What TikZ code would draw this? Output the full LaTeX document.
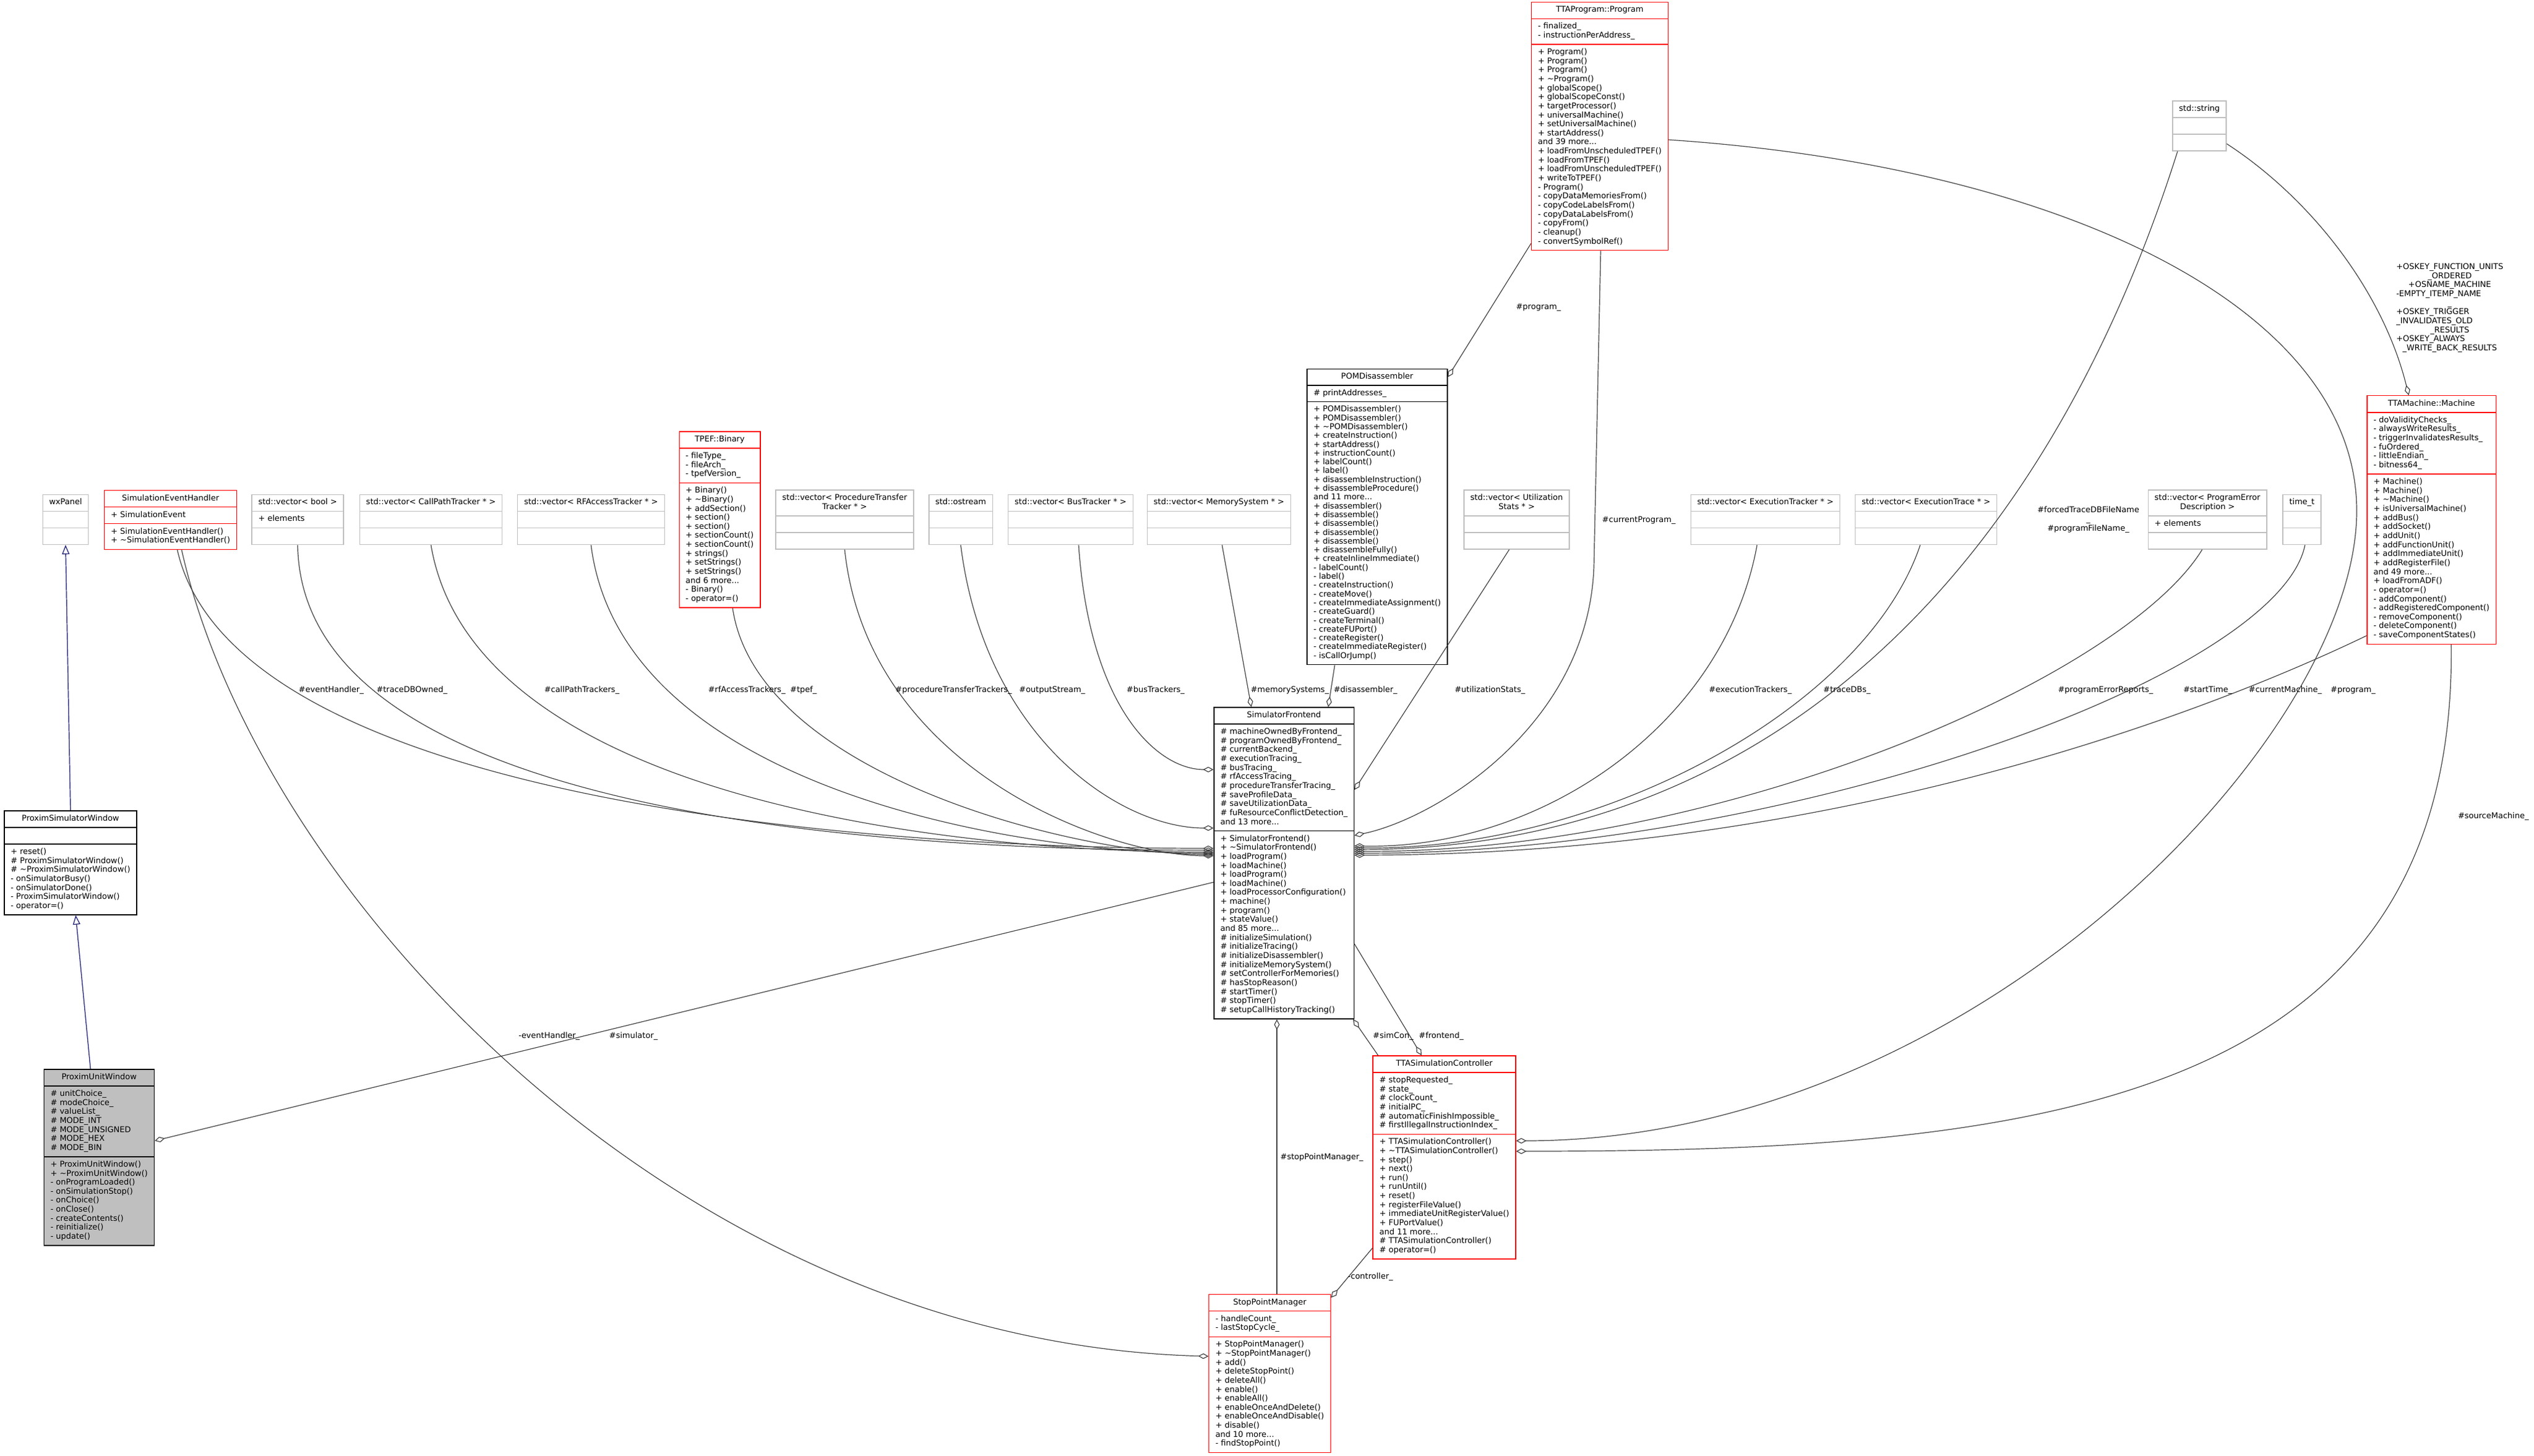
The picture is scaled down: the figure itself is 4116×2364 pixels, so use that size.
\documentclass[tikz,border=0pt]{standalone}
\usepackage{fontspec}
\setmainfont{DejaVu Sans}
\usetikzlibrary{shapes.multipart,arrows.meta,calc}
\definecolor{extgray}{RGB}{191,191,191}
\definecolor{edgegray}{RGB}{64,64,64}
\definecolor{inhblue}{RGB}{25,25,112}
\definecolor{unitfill}{RGB}{191,191,191}
\newcommand{\cllines}[1]{\begin{tabular}{@{}l@{}}#1\end{tabular}}
\newcommand{\clctr}[1]{\begin{tabular}{@{}c@{}}#1\end{tabular}}
\begin{document}
\begin{tikzpicture}[x=1pt,y=-1pt,
  cls/.style={rectangle split, rectangle split parts=3, rectangle split part align={center,left,left},
    draw, line width=1.4pt, inner xsep=10.5pt, inner ysep=5.5pt,
    font=\fontsize{13}{14.65}\selectfont, text=black, fill=white},
  redcls/.style={cls, draw=red},
  blkcls/.style={cls, draw=black},
  extcls/.style={cls, draw=extgray},
  uses/.style={draw=edgegray, line width=1.2pt, -{Diamond[open,length=17pt,width=9pt,line width=1.2pt]}},
  inh/.style={draw=inhblue, line width=1.2pt, {Triangle[open,length=15pt,width=12pt,line width=1.2pt]}-},
  lbl/.style={font=\fontsize{13}{14.65}\selectfont, inner sep=0pt, text=black, align=center},
]
\useasboundingbox (0,0) rectangle (4116,2364);
\fill[white] (0,0) rectangle (4116,2364);

% ---------------- classes ----------------
\node[extcls] (wx) at (106.5,844) {\strut wxPanel\nodepart{two}\strut\nodepart{three}\strut};
\node[redcls] (seh) at (277,844.5) {\strut SimulationEventHandler\nodepart{two}\cllines{+ SimulationEvent}\nodepart{three}\cllines{+ SimulationEventHandler()\\+ \textasciitilde SimulationEventHandler()}};
\node[blkcls] (psw) at (114.5,1401.5) {\strut ProximSimulatorWindow\nodepart{two}\strut\nodepart{three}\cllines{+ reset()\\\# ProximSimulatorWindow()\\\# \textasciitilde ProximSimulatorWindow()\\- onSimulatorBusy()\\- onSimulatorDone()\\- ProximSimulatorWindow()\\- operator=()}};
\node[blkcls, fill=unitfill] (puw) at (161,1880) {\strut ProximUnitWindow\nodepart{two}\cllines{\# unitChoice\_\\\# modeChoice\_\\\# valueList\_\\\# MODE\_INT\\\# MODE\_UNSIGNED\\\# MODE\_HEX\\\# MODE\_BIN}\nodepart{three}\cllines{+ ProximUnitWindow()\\+ \textasciitilde ProximUnitWindow()\\- onProgramLoaded()\\- onSimulationStop()\\- onChoice()\\- onClose()\\- createContents()\\- reinitialize()\\- update()}};

\node[extcls] (vbool) at (483.5,844) {\strut std::vector< bool >\nodepart{two}\cllines{+ elements}\nodepart{three}\strut};
\node[extcls] (vcall) at (700,844) {\strut std::vector< CallPathTracker * >\nodepart{two}\strut\nodepart{three}\strut};
\node[extcls] (vrf) at (960,844) {\strut std::vector< RFAccessTracker * >\nodepart{two}\strut\nodepart{three}\strut};
\node[redcls] (tpef) at (1169,844) {\strut TPEF::Binary\nodepart{two}\cllines{- fileType\_\\- fileArch\_\\- tpefVersion\_}\nodepart{three}\cllines{+ Binary()\\+ \textasciitilde Binary()\\+ addSection()\\+ section()\\+ section()\\+ sectionCount()\\+ sectionCount()\\+ strings()\\+ setStrings()\\+ setStrings()\\and 6 more...\\- Binary()\\- operator=()}};
\node[extcls] (vproc) at (1372,844) {\clctr{std::vector< ProcedureTransfer\\Tracker * >}\nodepart{two}\strut\nodepart{three}\strut};
\node[extcls] (ostr) at (1560.5,844) {\strut std::ostream\nodepart{two}\strut\nodepart{three}\strut};
\node[extcls] (vbus) at (1739,844) {\strut std::vector< BusTracker * >\nodepart{two}\strut\nodepart{three}\strut};
\node[extcls] (vmem) at (1980,844) {\strut std::vector< MemorySystem * >\nodepart{two}\strut\nodepart{three}\strut};
\node[blkcls, font=\fontsize{13}{14.3}\selectfont] (pom) at (2237,839.5) {\strut POMDisassembler\nodepart{two}\cllines{\# printAddresses\_}\nodepart{three}\cllines{+ POMDisassembler()\\+ POMDisassembler()\\+ \textasciitilde POMDisassembler()\\+ createInstruction()\\+ startAddress()\\+ instructionCount()\\+ labelCount()\\+ label()\\+ disassembleInstruction()\\+ disassembleProcedure()\\and 11 more...\\+ disassembler()\\+ disassemble()\\+ disassemble()\\+ disassemble()\\+ disassemble()\\+ disassembleFully()\\+ createInlineImmediate()\\- labelCount()\\- label()\\- createInstruction()\\- createMove()\\- createImmediateAssignment()\\- createGuard()\\- createTerminal()\\- createFUPort()\\- createRegister()\\- createImmediateRegister()\\- isCallOrJump()}};
\node[blkcls] (sf) at (2085.5,1402) {\strut SimulatorFrontend\nodepart{two}\cllines{\# machineOwnedByFrontend\_\\\# programOwnedByFrontend\_\\\# currentBackend\_\\\# executionTracing\_\\\# busTracing\_\\\# rfAccessTracing\_\\\# procedureTransferTracing\_\\\# saveProfileData\_\\\# saveUtilizationData\_\\\# fuResourceConflictDetection\_\\and 13 more...}\nodepart{three}\cllines{+ SimulatorFrontend()\\+ \textasciitilde SimulatorFrontend()\\+ loadProgram()\\+ loadMachine()\\+ loadProgram()\\+ loadMachine()\\+ loadProcessorConfiguration()\\+ machine()\\+ program()\\+ stateValue()\\and 85 more...\\\# initializeSimulation()\\\# initializeTracing()\\\# initializeDisassembler()\\\# initializeMemorySystem()\\\# setControllerForMemories()\\\# hasStopReason()\\\# startTimer()\\\# stopTimer()\\\# setupCallHistoryTracking()}};
\node[redcls] (prog) at (2598.5,205) {\strut TTAProgram::Program\nodepart{two}\cllines{- finalized\_\\- instructionPerAddress\_}\nodepart{three}\cllines{+ Program()\\+ Program()\\+ Program()\\+ \textasciitilde Program()\\+ globalScope()\\+ globalScopeConst()\\+ targetProcessor()\\+ universalMachine()\\+ setUniversalMachine()\\+ startAddress()\\and 39 more...\\+ loadFromUnscheduledTPEF()\\+ loadFromTPEF()\\+ loadFromUnscheduledTPEF()\\+ writeToTPEF()\\- Program()\\- copyDataMemoriesFrom()\\- copyCodeLabelsFrom()\\- copyDataLabelsFrom()\\- copyFrom()\\- cleanup()\\- convertSymbolRef()}};
\node[extcls] (vutil) at (2463.5,844) {\clctr{std::vector< Utilization\\Stats * >}\nodepart{two}\strut\nodepart{three}\strut};
\node[extcls] (vexec) at (2867.5,844) {\strut std::vector< ExecutionTracker * >\nodepart{two}\strut\nodepart{three}\strut};
\node[extcls] (vtrace) at (3128.5,844) {\strut std::vector< ExecutionTrace * >\nodepart{two}\strut\nodepart{three}\strut};
\node[extcls] (vperr) at (3585.5,844) {\clctr{std::vector< ProgramError\\Description >}\nodepart{two}\cllines{+ elements}\nodepart{three}\strut};
\node[extcls] (timet) at (3739,844) {\strut time\_t\nodepart{two}\strut\nodepart{three}\strut};
\node[extcls] (str) at (3572.5,204.5) {\strut std::string\nodepart{two}\strut\nodepart{three}\strut};
\node[redcls] (mach) at (3949.5,844.5) {\strut TTAMachine::Machine\nodepart{two}\cllines{- doValidityChecks\_\\- alwaysWriteResults\_\\- triggerInvalidatesResults\_\\- fuOrdered\_\\- littleEndian\_\\- bitness64\_}\nodepart{three}\cllines{+ Machine()\\+ Machine()\\+ \textasciitilde Machine()\\+ isUniversalMachine()\\+ addBus()\\+ addSocket()\\+ addUnit()\\+ addFunctionUnit()\\+ addImmediateUnit()\\+ addRegisterFile()\\and 49 more...\\+ loadFromADF()\\- operator=()\\- addComponent()\\- addRegisteredComponent()\\- removeComponent()\\- deleteComponent()\\- saveComponentStates()}};
\node[redcls] (tsc) at (2346,1880) {\strut TTASimulationController\nodepart{two}\cllines{\# stopRequested\_\\\# state\_\\\# clockCount\_\\\# initialPC\_\\\# automaticFinishImpossible\_\\\# firstIllegalInstructionIndex\_}\nodepart{three}\cllines{+ TTASimulationController()\\+ \textasciitilde TTASimulationController()\\+ step()\\+ next()\\+ run()\\+ runUntil()\\+ reset()\\+ registerFileValue()\\+ immediateUnitRegisterValue()\\+ FUPortValue()\\and 11 more...\\\# TTASimulationController()\\\# operator=()}};
\node[redcls] (spm) at (2062.5,2231) {\strut StopPointManager\nodepart{two}\cllines{- handleCount\_\\- lastStopCycle\_}\nodepart{three}\cllines{+ StopPointManager()\\+ \textasciitilde StopPointManager()\\+ add()\\+ deleteStopPoint()\\+ deleteAll()\\+ enable()\\+ enableAll()\\+ enableOnceAndDelete()\\+ enableOnceAndDisable()\\+ disable()\\and 10 more...\\- findStopPoint()}};

% ---------------- end points ----------------
\coordinate (sfL1) at ($(sf.west)+(0,-24)$);
\coordinate (sfL2) at ($(sf.west)+(0,-21)$);
\coordinate (sfL3) at ($(sf.west)+(0,-18)$);
\coordinate (sfL4) at ($(sf.west)+(0,-16)$);
\coordinate (sfL5) at ($(sf.west)+(0,-14)$);
\coordinate (sfL6) at ($(sf.west)+(0,-12)$);
\coordinate (sfLos) at ($(sf.west)+(0,-57)$);
\coordinate (sfLbus) at ($(sf.west)+(0,-152)$);
\coordinate (sfLpuw) at ($(sf.west)+(0,31)$);
\coordinate (sfRutil) at ($(sf.east)+(0,-119)$);
\coordinate (sfRprog) at ($(sf.east)+(0,-45)$);
\coordinate (sfR1) at ($(sf.east)+(0,-28)$);
\coordinate (sfR2) at ($(sf.east)+(0,-25)$);
\coordinate (sfR3) at ($(sf.east)+(0,-22)$);
\coordinate (sfR4) at ($(sf.east)+(0,-19)$);
\coordinate (sfR5) at ($(sf.east)+(0,-16)$);
\coordinate (sfR6) at ($(sf.east)+(0,-13)$);
\coordinate (sfRfront) at ($(sf.east)+(0,131)$);
\coordinate (tscR1) at ($(tsc.east)+(0,-27)$);
\coordinate (tscR2) at ($(tsc.east)+(0,-10)$);

% ---------------- inheritance ----------------
\draw[inh] (wx.south) -- (psw.north);
\draw[inh] ($(psw.south)+(8.5,0)$) -- ($(puw.north)+(-14,0)$);

% ---------------- usage edges, left group ----------------
\draw[uses] ($(seh.south)+(11,0)$) .. controls (380,1300) and (1400,1378) .. (sfL1);
\draw[uses] (vbool.south) .. controls (490,1330) and (1450,1381) .. (sfL2);
\draw[uses] (vcall.south) .. controls (770,1300) and (1550,1384) .. (sfL3);
\draw[uses] (vrf.south) .. controls (1010,1280) and (1650,1386) .. (sfL4);
\draw[uses] ($(tpef.south)+(21,0)$) .. controls (1230,1260) and (1750,1388) .. (sfL5);
\draw[uses] (vproc.south) .. controls (1410,1250) and (1800,1390) .. (sfL6);
\draw[uses] (ostr.south) .. controls (1600,1200) and (1820,1345) .. (sfLos);
\draw[uses] ($(vbus.south)+(13,0)$) .. controls (1770,1150) and (1880,1250) .. (sfLbus);
\draw[uses] ($(vmem.south)+(5,0)$) -- ($(sf.north)+(-53,0)$);
\draw[uses] ($(pom.south)+(-69,0)$) -- ($(sf.north)+(72,0)$);

% ---------------- usage edges, right group ----------------
\draw[uses] ($(vutil.south)+(-12,0)$) -- (sfRutil);
\draw[uses] ($(prog.south)+(1.5,0)$) -- (2589,920) .. controls (2580,1180) and (2330,1330) .. (sfRprog);
\draw[uses] ($(vexec.south)+(-13.5,0)$) .. controls (2800,1180) and (2500,1380) .. (sfR1);
\draw[uses] ($(vtrace.south)+(-9.5,0)$) .. controls (3030,1150) and (2600,1382) .. (sfR2);
\draw[uses] ($(str.south)+(-35.5,0)$) .. controls (3330,900) and (2900,1376) .. (sfR3);
\draw[uses] ($(vperr.south)+(-8.5,0)$) .. controls (3450,1100) and (2800,1384) .. (sfR4);
\draw[uses] ($(timet.south)+(5,0)$) .. controls (3700,1100) and (2900,1386) .. (sfR5);
\draw[uses] ($(mach.west)+(0,188)$) .. controls (3600,1150) and (3000,1388) .. (sfR6);

% ---------------- other edges ----------------
\draw[uses] ($(prog.south west)+(0,-12)$) -- ($(pom.north east)+(0,14)$);
\draw[uses] ($(prog.east)+(0,22)$) .. controls (3350,270) and (3828,500) .. (3828,830)
   .. controls (3828,1200) and (3200,1853) .. (tscR1);
\draw[uses] ($(mach.south)+(32,0)$) .. controls (3990,1800) and (3300,1870) .. (tscR2);
\draw[uses] ($(str.east)+(0,29)$) .. controls (3750,320) and (3870,470) .. ($(mach.north)+(-37,0)$);
\draw[uses] (sfRfront) -- ($(tsc.north)+(-37,0)$);
\draw[uses] ($(tsc.north west)+(9,0)$) -- ($(sf.south east)+(-2,0)$);
\draw[uses] ($(spm.north)+(11.5,0)$) -- ($(sf.south)+(-11.5,0)$);
\draw[uses] ($(tsc.west)+(0,147)$) -- ($(spm.north east)+(0,6)$);
\draw[uses] ($(seh.south)+(18,0)$) .. controls (420,1450) and (1100,2180) .. ($(spm.west)+(0,-28)$);
\draw[uses] (sfLpuw) -- ($(puw.east)+(0,-27)$);

% ---------------- edge labels ----------------
\node[lbl] (l1) at (538,1121) {\#eventHandler\_};
\node[lbl] (l2) at (669,1121) {\#traceDBOwned\_};
\node[lbl] (l3) at (945,1121) {\#callPathTrackers\_};
\node[lbl] (l4) at (1213,1121) {\#rfAccessTrackers\_};
\node[lbl] (l5) at (1305,1121) {\#tpef\_};
\node[lbl] (l6) at (1549,1121) {\#procedureTransferTrackers\_};
\node[lbl] (l7) at (1709,1121) {\#outputStream\_};
\node[lbl] (l8) at (1877,1121) {\#busTrackers\_};
\node[lbl] (l9) at (2095,1121) {\#memorySystems\_};
\node[lbl] (l10) at (2218,1121) {\#disassembler\_};
\node[lbl] (l11) at (2420,1121) {\#utilizationStats\_};
\node[lbl] (l12) at (2662,845) {\#currentProgram\_};
\node[lbl] (l13) at (2843,1121) {\#executionTrackers\_};
\node[lbl] (l14) at (3000,1121) {\#traceDBs\_};
\node[lbl] (l15) at (3392,844) {\#forcedTraceDBFileName\\\_\\\#programFileName\_};
\node[lbl] (l16) at (3420,1121) {\#programErrorReports\_};
\node[lbl] (l17) at (3586,1121) {\#startTime\_};
\node[lbl] (l18) at (3712,1121) {\#currentMachine\_};
\node[lbl] (l19) at (3822,1121) {\#program\_};
\node[lbl] (l20) at (4050,1326) {\#sourceMachine\_};
\node[lbl] (l21) at (2499,499) {\#program\_};
\node[lbl] (l22) at (892,1683) {-eventHandler\_};
\node[lbl] (l23) at (1029,1683) {\#simulator\_};
\node[lbl] (l24) at (2263,1683) {\#simCon\_};
\node[lbl] (l25) at (2341,1683) {\#frontend\_};
\node[lbl] (l26) at (2147,1880) {\#stopPointManager\_};
\node[lbl] (l27) at (2226,2074) {-controller\_};
\node[lbl, anchor=north west] (l28) at (3892,427) {\begin{tabular}{@{}c@{}}+OSKEY\_FUNCTION\_UNITS\\\_ORDERED\\+OSNAME\_MACHINE\\\multicolumn{1}{@{}l@{}}{-EMPTY\_ITEMP\_NAME}\\\_\\\multicolumn{1}{@{}l@{}}{+OSKEY\_TRIGGER}\\\multicolumn{1}{@{}l@{}}{\_INVALIDATES\_OLD}\\\_RESULTS\\\multicolumn{1}{@{}l@{}}{+OSKEY\_ALWAYS}\\\_WRITE\_BACK\_RESULTS\end{tabular}};
\end{tikzpicture}
\end{document}
